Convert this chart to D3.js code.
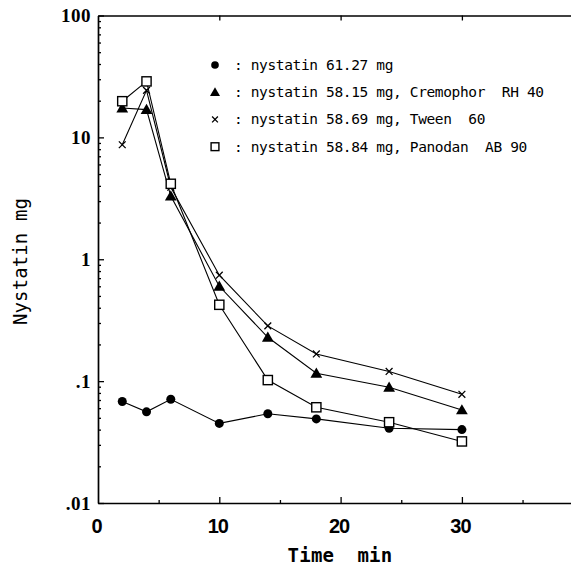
<!DOCTYPE html>
<html><head><meta charset="utf-8">
<script src="https://cdn.jsdelivr.net/npm/d3@7"></script>
<style>body{margin:0;background:#fff}svg{display:block}</style>
</head><body>
<svg id="c" width="571" height="568"></svg>
<script>
const time = [2, 4, 6, 10, 14, 18, 24, 30];
const nystatinPlain = [0.068, 0.056, 0.071, 0.045, 0.054, 0.049, 0.041, 0.040];
const cremophor = [17.4, 16.9, 3.3, 0.60, 0.229, 0.116, 0.089, 0.058];
const tween = [8.7, 24.3, 3.9, 0.74, 0.284, 0.167, 0.120, 0.078];
const panodan = [19.8, 28.8, 4.16, 0.423, 0.102, 0.061, 0.046, 0.032];
const legendLabels = [": nystatin 61.27 mg", ": nystatin 58.15 mg, Cremophor  RH 40", ": nystatin 58.69 mg, Tween  60", ": nystatin 58.84 mg, Panodan  AB 90"];
const yTickValues = [0.01, 0.1, 1, 10, 100];
const yTickLabels = [".01", ".1", "1", "10", "100"];
const xTickValues = [0, 10, 20, 30];
const xTitle = "Time  min";
const yTitle = "Nystatin mg";

const svg = d3.select("#c");
const x = d3.scaleLinear().domain([0, 40]).range([98, 583.2]);
const y = d3.scaleLog().domain([0.01, 100]).range([503, 15.5]);

const series = [
  {vals: nystatinPlain, shape: "circle"},
  {vals: cremophor, shape: "triangle"},
  {vals: tween, shape: "x"},
  {vals: panodan, shape: "square"}
];

function clean(g){ g.select(".domain").remove(); g.selectAll("text").remove(); g.selectAll("line").attr("stroke","#000").attr("stroke-width",1.3); }
const minorY = [];
for (let e=-2; e<2; e++) for (let k=2;k<=9;k++) minorY.push(k*Math.pow(10,e));
svg.append("g").attr("transform","translate(98,0)")
  .call(d3.axisLeft(y).tickValues(minorY).tickSize(-3)).call(clean);
svg.append("g").attr("transform","translate(98,0)")
  .call(d3.axisLeft(y).tickValues(yTickValues).tickSizeInner(-6).tickSizeOuter(0)).call(clean);
const gyl = svg.append("g").attr("transform","translate(98,0)")
  .call(d3.axisLeft(y).tickValues(yTickValues).tickSize(0).tickPadding(7)
    .tickFormat((d,i)=>yTickLabels[i]));
gyl.select(".domain").attr("stroke","#000").attr("stroke-width",1.7);
gyl.selectAll("text").attr("font-family","'Liberation Serif', serif").attr("font-weight","bold")
  .attr("font-size",19).attr("letter-spacing","0.5px").attr("fill","#000").attr("dy","0.34em");

svg.append("g").attr("transform","translate(0,503)")
  .call(d3.axisBottom(x).tickValues([5,15,25,35]).tickSize(-3)).call(clean);
svg.append("g").attr("transform","translate(0,503)")
  .call(d3.axisBottom(x).tickValues([10,20,30]).tickSize(-6)).call(clean);
const gxl = svg.append("g").attr("transform","translate(0,503)")
  .call(d3.axisBottom(x).tickValues(xTickValues).tickSize(0).tickPadding(12));
gxl.select(".domain").attr("stroke","#000").attr("stroke-width",1.7);
gxl.selectAll("text").attr("font-family","'Liberation Sans', sans-serif").attr("font-weight","bold")
  .attr("font-size",20).attr("letter-spacing","-1px").attr("fill","#000").attr("dx","-2").attr("dy","0.9em");

const gt = svg.append("g").attr("transform","translate(0,15.5)")
  .call(d3.axisTop(x).tickValues([10,20,30]).tickSizeInner(-5).tickSizeOuter(0));
gt.selectAll("text").remove();
gt.select(".domain").attr("stroke","#000").attr("stroke-width",1.5);
gt.selectAll("line").attr("stroke","#000").attr("stroke-width",1.3);

svg.append("text").attr("x",340).attr("y",562).attr("text-anchor","middle")
  .attr("font-family","'DejaVu Sans Mono', monospace").attr("font-weight","bold").attr("font-size",19)
  .attr("letter-spacing","0.2px").style("white-space","pre").text(xTitle);
svg.append("text").attr("transform","translate(27,261.5) rotate(-90)").attr("text-anchor","middle")
  .attr("font-family","'DejaVu Sans Mono', monospace").attr("font-size",19)
  .attr("letter-spacing","0.1px").text(yTitle);

function drawMarker(g, shape, cx, cy, s) {
  if (shape === "circle") {
    g.append("circle").attr("cx",cx).attr("cy",cy).attr("r",4.5*s).attr("fill","#000");
  } else if (shape === "triangle") {
    g.append("path").attr("transform",`translate(${cx},${cy+1*s})`)
      .attr("d", d3.symbol(d3.symbolTriangle, 60*s*s)()).attr("fill","#000");
  } else if (shape === "square") {
    const h = 4.6*s;
    g.append("rect").attr("x",cx-h).attr("y",cy-h).attr("width",2*h).attr("height",2*h)
      .attr("fill","#fff").attr("stroke","#000").attr("stroke-width",1.4);
  } else {
    const h = 3.4*s;
    g.append("path").attr("d",`M${cx-h},${cy-h}L${cx+h},${cy+h}M${cx-h},${cy+h}L${cx+h},${cy-h}`)
      .attr("stroke","#000").attr("stroke-width",1.3).attr("fill","none");
  }
}

const line = d3.line().x(d=>x(d[0])).y(d=>y(d[1]));
series.forEach(s=>{
  const pts = time.map((t,i)=>[t, s.vals[i]]);
  svg.append("path").attr("d", line(pts)).attr("fill","none").attr("stroke","#000").attr("stroke-width",1.1);
});
series.forEach(s=>{
  const g = svg.append("g");
  time.forEach((t,i)=>drawMarker(g, s.shape, x(t), y(s.vals[i]), 1));
});

const legY = d3.scalePoint().domain(d3.range(legendLabels.length)).range([65, 146.7]);
series.forEach((s,i)=>{
  drawMarker(svg.append("g"), s.shape, 215, legY(i), 0.85);
  svg.append("text").attr("x",234).attr("y",legY(i)+5)
    .attr("font-family","'DejaVu Sans Mono', monospace").attr("font-size",14.5)
    .attr("letter-spacing","-0.36px").style("white-space","pre").text(legendLabels[i]);
});
</script>
</body></html>
